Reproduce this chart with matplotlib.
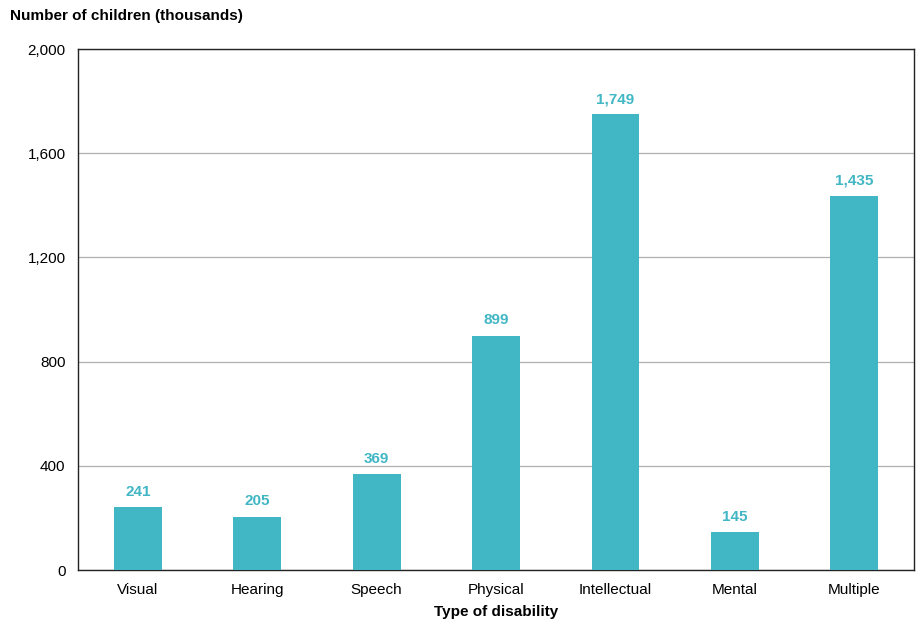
import matplotlib.pyplot as plt

plt.rcParams['font.family'] = ['Liberation Sans', 'DejaVu Sans']

# data
categories = ["Visual", "Hearing", "Speech", "Physical", "Intellectual", "Mental", "Multiple"]
values = [241, 205, 369, 899, 1749, 145, 1435]
yticks = [0, 400, 800, 1200, 1600, 2000]

bar_color = "#41B6C4"

fig = plt.figure(figsize=(9.19, 6.22), dpi=100)
ax = fig.add_axes([0.085, 0.0836, 0.9096, 0.8376])

x = range(len(categories))
bars = ax.bar(x, values, width=0.40, color=bar_color, zorder=3)
for xi, v in zip(x, values):
    ax.text(xi, v + 32, f"{v:,}", ha="center", va="bottom",
            color=bar_color, fontsize=11, fontweight="bold")

ax.set_xlim(-0.5, len(categories) - 0.5)
ax.set_ylim(0, 2000)
ax.set_yticks(yticks)
ax.set_yticklabels([f"{t:,}" for t in yticks], fontsize=11)
ax.set_xticks(list(x))
ax.set_xticklabels(categories, fontsize=11)
ax.tick_params(axis="both", length=0, pad=9)
ax.grid(axis="y", color="#b0b0b0", linewidth=0.9, zorder=0)
for sp in ax.spines.values():
    sp.set_color("#222222")
    sp.set_linewidth(1.0)

ax.set_xlabel("Type of disability", fontsize=11, fontweight="bold", labelpad=6)
fig.text(0.011, 0.975, "Number of children (thousands)", fontsize=11,
         fontweight="bold", ha="left", va="center")

fig.savefig("out.png", dpi=100)
